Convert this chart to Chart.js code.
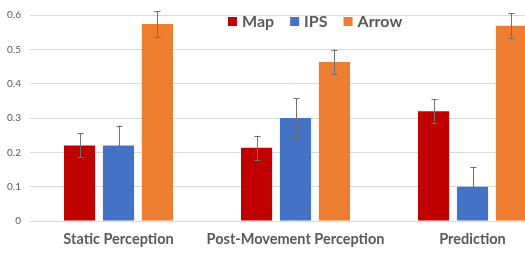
<!DOCTYPE html>
<html>
<head>
<meta charset="utf-8">
<script src="https://cdn.jsdelivr.net/npm/chart.js@4.4.1/dist/chart.umd.min.js"></script>
<style>
    html, body {
        margin: 0;
        padding: 0;
        background: #ffffff;
        overflow: hidden;
    }
    #wrap {
        width: 525px;
        height: 253px;
        overflow: hidden;
    }
</style>
</head>
<body>
<div id="wrap">
    <canvas id="barChart" width="575" height="253"></canvas>
</div>
<script>

const categories = [
    "Static Perception",
    "Post-Movement Perception",
    "Prediction"
];

const seriesNames = ["Map", "IPS", "Arrow"];

const mapValues = [0.22, 0.213, 0.32];
const ipsValues = [0.22, 0.30, 0.10];
const arrowValues = [0.574, 0.463, 0.569];

const mapErrors = [0.035, 0.035, 0.034];
const ipsErrors = [0.058, 0.058, 0.058];
const arrowErrors = [0.037, 0.036, 0.036];

const yTicks = [0, 0.1, 0.2, 0.3, 0.4, 0.5, 0.6];

const seriesColors = ["#C00000", "#4472C4", "#ED7D31"];

const textColor = "#595959";

// error bars drawn on top of each bar
const errorBarPlugin = {
    id: "errorBars",
    afterDatasetsDraw(chart) {
        const ctx = chart.ctx;
        const yScale = chart.scales.y;
        ctx.save();
        ctx.strokeStyle = "#6f6f6f";
        ctx.lineWidth = 1;
        chart.data.datasets.forEach((ds, i) => {
            const meta = chart.getDatasetMeta(i);
            meta.data.forEach((bar, j) => {
                const v = ds.data[j];
                const e = ds.errors[j];
                const x = Math.round(bar.x) + 0.5;
                const top = yScale.getPixelForValue(v + e);
                const bottom = yScale.getPixelForValue(v - e);
                ctx.beginPath();
                ctx.moveTo(x, top);
                ctx.lineTo(x, bottom);
                ctx.moveTo(x - 3, Math.round(top) + 0.5);
                ctx.lineTo(x + 3, Math.round(top) + 0.5);
                ctx.moveTo(x - 3, Math.round(bottom) + 0.5);
                ctx.lineTo(x + 3, Math.round(bottom) + 0.5);
                ctx.stroke();
            });
        });
        ctx.restore();
    }
};

// legend drawn inside the plot area, like the original
const innerLegendPlugin = {
    id: "innerLegend",
    afterDraw(chart) {
        const ctx = chart.ctx;
        ctx.save();
        ctx.font = "bold 16px Lato";
        ctx.textBaseline = "middle";
        ctx.textAlign = "left";
        let x = 228;
        const y = 22;
        chart.data.datasets.forEach(ds => {
            ctx.fillStyle = ds.backgroundColor;
            ctx.fillRect(x, y - 5, 9, 9);
            ctx.fillStyle = textColor;
            ctx.fillText(ds.label, x + 14, y);
            x += 14 + ctx.measureText(ds.label).width + 16;
        });
        ctx.restore();
    }
};

function createBarChart() {

    const chartCanvas =
        document.getElementById("barChart");

    const values = [mapValues, ipsValues, arrowValues];
    const errors = [mapErrors, ipsErrors, arrowErrors];

    new Chart(chartCanvas, {

        type: "bar",

        data: {
            labels: categories,
            datasets: seriesNames.map((name, i) => ({
                label: name,
                data: values[i],
                errors: errors[i],
                backgroundColor: seriesColors[i],
                categoryPercentage: 0.66,
                barPercentage: 0.8
            }))
        },

        options: {
            responsive: false,
            animation: false,
            layout: {
                padding: { top: 7, right: 14, left: 0, bottom: 0 }
            },
            plugins: {
                legend: { display: false },
                tooltip: { enabled: false }
            },
            scales: {
                x: {
                    afterFit(scale) {
                        scale.height = 32;
                    },
                    grid: { display: false, drawTicks: false },
                    border: { display: false },
                    ticks: {
                        color: textColor,
                        padding: 10,
                        maxRotation: 0,
                        autoSkip: false,
                        font: { family: "Lato", size: 14.5, weight: "bold" }
                    }
                },
                y: {
                    min: 0,
                    max: 0.6,
                    afterFit(scale) {
                        scale.width = 30;
                    },
                    afterBuildTicks(scale) {
                        scale.ticks = yTicks.map(v => ({ value: v }));
                    },
                    grid: {
                        color: "#d9d9d9",
                        drawTicks: false
                    },
                    border: { display: false },
                    ticks: {
                        color: textColor,
                        padding: 9,
                        font: { family: "Lato", size: 10 },
                        callback: v => String(Math.round(v * 10) / 10)
                    }
                }
            }
        },

        plugins: [errorBarPlugin, innerLegendPlugin]

    });

}

createBarChart();

</script>
</body>
</html>
